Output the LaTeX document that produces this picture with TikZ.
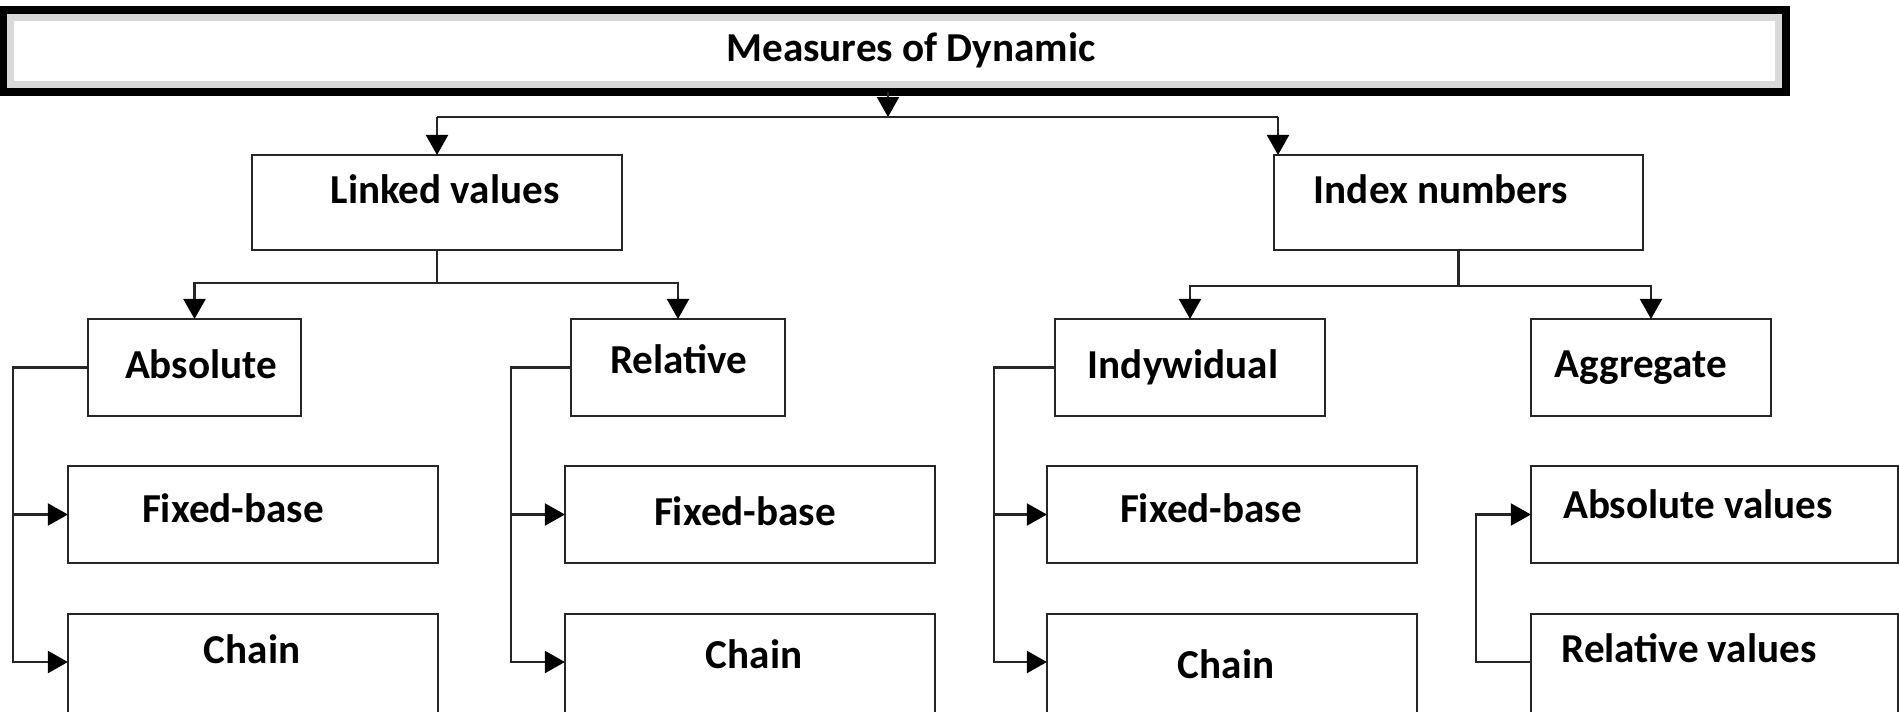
\documentclass[tikz,border=0pt]{standalone}
\usepackage{fontspec}
\setmainfont{Carlito}
\usetikzlibrary{arrows.meta}
\begin{document}
\begin{tikzpicture}[x=0.01cm,y=-0.01cm,
  box/.style={draw=black!85, line width=0.6pt, inner sep=0pt, outer sep=0pt, fill=white},
  lbl/.style={anchor=base, inner sep=0pt, font=\fontsize{11.7}{14}\selectfont\bfseries},
  conn/.style={draw=black!85, line width=0.6pt},
  arr/.style={conn, -{Triangle[length=0.2cm,width=0.22cm,color=black]}}]
\useasboundingbox (0,0) rectangle (1899,711);
\clip (0,0) rectangle (1899,711);
% title box
\node[draw=black, line width=0.085cm, inner sep=0pt, outer sep=0pt, minimum width=17.81cm, minimum height=0.82cm] (top) at (894.5,51) {};
\draw[draw=black!15, line width=0.07cm] ([shift={(7.5,7.5)}]top.north west) rectangle ([shift={(-7.5,-7.5)}]top.south east);
% boxes
\node[box, minimum width=3.70cm, minimum height=0.95cm] (lv) at (437,202.5) {};
\node[box, minimum width=3.69cm, minimum height=0.95cm] (in) at (1458.5,202.5) {};
\node[box, minimum width=2.13cm, minimum height=0.97cm] (ab) at (194.5,367.5) {};
\node[box, minimum width=2.14cm, minimum height=0.97cm] (re) at (678,367.5) {};
\node[box, minimum width=2.70cm, minimum height=0.97cm] (iw) at (1190,367.5) {};
\node[box, minimum width=2.40cm, minimum height=0.97cm] (ag) at (1651,367.5) {};
\node[box, minimum width=3.70cm, minimum height=0.97cm] (fb1) at (253,514.5) {};
\node[box, minimum width=3.70cm, minimum height=1.06cm] (ch1) at (253,667) {};
\node[box, minimum width=3.70cm, minimum height=0.97cm] (fb2) at (750,514.5) {};
\node[box, minimum width=3.70cm, minimum height=1.06cm] (ch2) at (750,667) {};
\node[box, minimum width=3.70cm, minimum height=0.97cm] (fb3) at (1232,514.5) {};
\node[box, minimum width=3.70cm, minimum height=1.06cm] (ch3) at (1232,667) {};
\node[box, minimum width=3.67cm, minimum height=0.97cm] (av) at (1714.5,514.5) {};
\node[box, minimum width=3.67cm, minimum height=1.06cm] (rv) at (1714.5,667) {};
% labels
\node[lbl] (tt) at (911,61) {Measures of Dynamic};
\node[lbl] (lvt) at (445,203) {Linked values};
\node[lbl] (int) at (1441,203) {Index numbers};
\node[lbl] (abt) at (201,378) {Absolute};
\node[lbl] (ret) at (679,373) {Relative};
\node[lbl] (iwt) at (1183,378) {Indywidual};
\node[lbl] (agt) at (1641,377) {Aggregate};
\node[lbl] (fb1t) at (233,522) {Fixed-base};
\node[lbl] (ch1t) at (252,663) {Chain};
\node[lbl] (fb2t) at (745,525) {Fixed-base};
\node[lbl] (ch2t) at (754,668) {Chain};
\node[lbl] (fb3t) at (1211,522) {Fixed-base};
\node[lbl] (ch3t) at (1226,678) {Chain};
\node[lbl] (avt) at (1698,518) {Absolute values};
\node[lbl] (rvt) at (1689,662) {Relative values};
% top connectors
\coordinate (tj) at (888,117);
\coordinate (tr) at (1278,117);
\draw[arr] (tj |- top.south) -- (tj);
\draw[conn] (lv.north |- tj) -- (tr);
\draw[arr] (lv.north |- tj) -- (lv.north);
\draw[arr] (tr) -- (tr |- in.north);
\coordinate (lvj) at (437,283);
\draw[conn] (lv.south) -- (lvj);
\draw[arr] (lvj) -| (ab.north);
\draw[arr] (lvj) -| (re.north);
\coordinate (inj) at (1458.5,286);
\draw[conn] (in.south) -- (inj);
\draw[arr] (inj) -| (iw.north);
\draw[arr] (inj) -| (ag.north);
% side connectors
\coordinate (abx) at (13,0);
\coordinate (c1) at ([shift={(0,-5)}]ch1.west);
\draw[arr] (ab.west) -| (abx |- c1) -- (c1);
\draw[arr] (abx |- fb1.west) -- (fb1.west);
\coordinate (rex) at (511,0);
\coordinate (c2) at ([shift={(0,-5)}]ch2.west);
\draw[arr] (re.west) -| (rex |- c2) -- (c2);
\draw[arr] (rex |- fb2.west) -- (fb2.west);
\coordinate (iwx) at (994,0);
\coordinate (c3) at ([shift={(0,-5)}]ch3.west);
\draw[arr] (iw.west) -| (iwx |- c3) -- (c3);
\draw[arr] (iwx |- fb3.west) -- (fb3.west);
\coordinate (avx) at (1476,0);
\coordinate (c4) at ([shift={(0,-5)}]rv.west);
\draw[arr] (c4) -| (avx |- av.west) -- (av.west);
\end{tikzpicture}
\end{document}
